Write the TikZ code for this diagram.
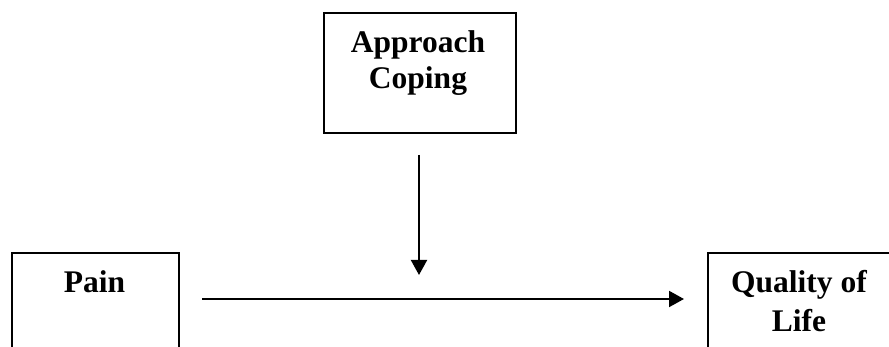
\documentclass[tikz,border=0pt]{standalone}
\usepackage{fontspec}
\setmainfont{Liberation Serif}
\usetikzlibrary{arrows.meta}
\begin{document}
\begin{tikzpicture}[x=1pt,y=-1pt,
  boxst/.style={draw,line width=2.2pt,rectangle,inner sep=0pt,anchor=north west},
  lbl/.style={font=\fontsize{31.5}{37}\selectfont\bfseries,align=center,anchor=base,inner sep=0pt},
  arr/.style={line width=2pt,-{Triangle[width=16pt,length=15pt]}}]
\useasboundingbox (0,0) rectangle (889,347);
\begin{scope}
\clip (0,0) rectangle (889,347);
\node[boxst,minimum width=192pt,minimum height=120pt] (apbox) at (323,12) {};
\node[boxst,minimum width=167pt,minimum height=95pt] (painbox) at (11,252) {};
\node[boxst,minimum width=184pt,minimum height=95pt] (qolbox) at (707,252) {};
\end{scope}
\node[lbl,font=\fontsize{31.5}{36}\selectfont\bfseries] (aptext) at (418,89) {Approach\\Coping};
\node[lbl,font=\fontsize{31.5}{39}\selectfont\bfseries] (qoltext) at (799,331) {Quality of\\Life};
\node[lbl] (paintext) at (94.5,293) {Pain};
\coordinate (vtop) at (419,155);
\coordinate (vend) at (419,275);
\coordinate (hstart) at (202,299);
\coordinate (hend) at (684,299);
\draw[arr] (vtop) -- (vend);
\draw[arr] (hstart) -- (hend);
\end{tikzpicture}
\end{document}
